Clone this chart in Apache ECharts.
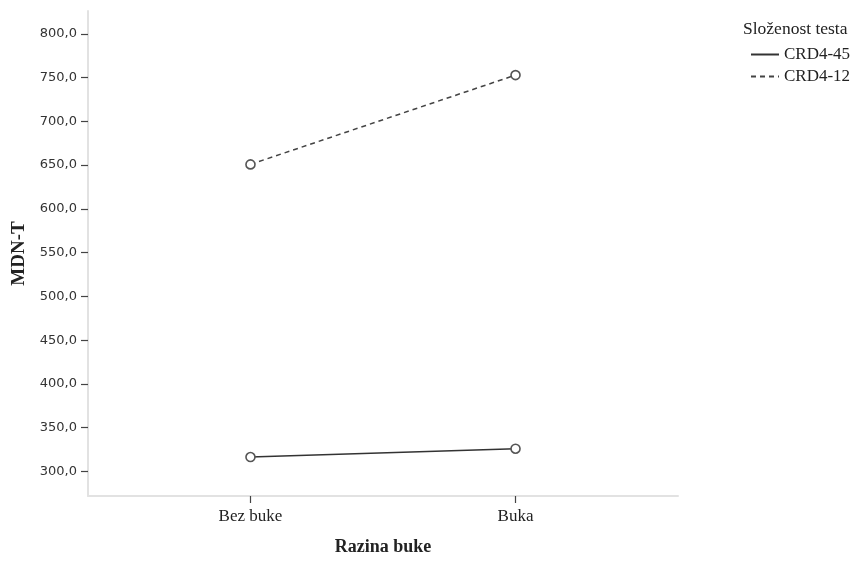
<!DOCTYPE html>
<html>
<head>
<meta charset="utf-8">
<script src="https://cdn.jsdelivr.net/npm/echarts@6/dist/echarts.min.js"></script>
<style>html,body{margin:0;padding:0;background:#fff}#c{width:853px;height:561px}</style>
</head>
<body>
<div id="c"></div>
<script>
const categories = ['Bez buke', 'Buka'];
const seriesNames = ['CRD4-45', 'CRD4-12'];
const crd45 = [316.5, 326.0];
const crd12 = [650.8, 752.8];
const yTicks = [300, 350, 400, 450, 500, 550, 600, 650, 700, 750, 800];
const yTitle = 'MDN-T';
const xTitle = 'Razina buke';
const legendTitle = 'Složenost testa';

const toPts = arr => arr.map((v, i) => [i, v]);
const serif = '"Liberation Serif", "DejaVu Serif", serif';
const sans = '"DejaVu Sans", "Liberation Sans", sans-serif';

const chart = echarts.init(document.getElementById('c'), null, {renderer: 'canvas'});
chart.setOption({
  animation: false,
  backgroundColor: '#fff',
  title: {
    text: legendTitle, left: 743, top: 20, padding: 0,
    textStyle: {fontFamily: serif, fontSize: 17.5, fontWeight: 'normal', color: '#222'}
  },
  legend: {
    orient: 'vertical', left: 750, top: 46, itemGap: 5, padding: 0,
    itemWidth: 28, itemHeight: 10,
    itemStyle: {opacity: 0},
    textStyle: {fontFamily: serif, fontSize: 17, color: '#222', padding: [0, 0, 0, 0]},
    data: seriesNames
  },
  grid: {left: 88, right: 175, top: 11, bottom: 60, containLabel: false},
  xAxis: {
    type: 'value', min: -0.613, max: 1.613,
    splitLine: {show: false},
    axisLine: {show: true, onZero: false, lineStyle: {color: '#e2e2e2', width: 2}},
    axisTick: {show: true, customValues: [0, 1], length: 7, lineStyle: {color: '#444', width: 1.2}},
    axisLabel: {
      customValues: [0, 1], margin: 12,
      formatter: v => categories[Math.round(v)],
      fontFamily: serif, fontSize: 17, color: '#222'
    },
    name: xTitle, nameLocation: 'middle', nameGap: 42,
    nameTextStyle: {fontFamily: serif, fontSize: 18, fontWeight: 'bold', color: '#222'}
  },
  yAxis: {
    type: 'value', min: 272, max: 826,
    splitLine: {show: false},
    axisLine: {show: true, onZero: false, lineStyle: {color: '#e2e2e2', width: 2}},
    axisTick: {show: true, customValues: yTicks, length: 7, lineStyle: {color: '#444', width: 1.2}},
    axisLabel: {
      customValues: yTicks, margin: 11,
      formatter: v => v.toFixed(1).replace('.', ','),
      fontFamily: sans, fontSize: 13, color: '#333'
    },
    name: yTitle, nameLocation: 'middle', nameGap: 57,
    nameTextStyle: {fontFamily: serif, fontSize: 19, fontWeight: 'bold', color: '#222'}
  },
  series: [
    {
      name: seriesNames[0], type: 'line', data: toPts(crd45),
      symbol: 'circle', symbolSize: 9,
      lineStyle: {color: '#333', width: 1.5, type: 'solid'},
      itemStyle: {color: '#fff', borderColor: '#555', borderWidth: 1.6}
    },
    {
      name: seriesNames[1], type: 'line', data: toPts(crd12),
      symbol: 'circle', symbolSize: 9,
      lineStyle: {color: '#444', width: 1.5, type: [5, 4]},
      itemStyle: {color: '#fff', borderColor: '#555', borderWidth: 1.6}
    }
  ]
});
</script>
</body>
</html>
